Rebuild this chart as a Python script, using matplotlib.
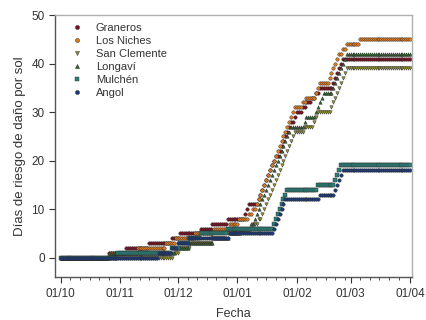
import numpy as np
import pandas as pd
import matplotlib
matplotlib.use("Agg")
import matplotlib.pyplot as plt
import matplotlib.dates as mdates

plt.rcParams['font.family'] = ['Liberation Sans', 'DejaVu Sans']

# season start and end (daily records)
START = '2018-10-01'
END = '2019-04-01'

# days (counted from 01/10) on which each station registered a sun damage risk day
graneros = [25, 34, 46, 58, 62, 73, 79, 87, 96, 97, 98,
            103, 104, 105, 106, 107, 108, 109, 110, 111, 112,
            114, 115, 116, 117, 118, 119, 120, 122, 123, 126, 128, 131, 133, 135,
            142, 143, 144, 145, 146, 147]
los_niches = [26, 40, 55, 60, 70, 80, 88, 93, 98, 100,
              102, 103, 104, 105, 106, 107, 108, 109, 110, 111, 112, 113, 114,
              115, 116, 117, 118, 119, 120, 121, 122, 126, 128, 133, 134, 135,
              140, 141, 142, 143, 144, 145, 147, 149, 156]
san_clemente = [59, 62, 68, 79, 86, 95, 100, 103,
                105, 106, 107, 108, 109, 110, 111, 112, 113, 114, 115, 116, 117,
                118, 119, 120, 121, 122, 127, 132, 133, 134,
                141, 142, 143, 144, 145, 146, 147, 148, 149]
longavi = [25, 60, 67, 80, 88, 94, 99,
           101, 102, 103, 104, 105, 106, 107, 108, 109, 110, 111, 112, 113, 114,
           115, 116, 117, 118, 119, 120, 127, 128, 133, 134, 135, 136, 137,
           142, 143, 144, 145, 146, 147, 148, 149]
mulchen = [30, 58, 62, 67, 73, 87, 111, 112, 113, 114, 115, 116, 117, 118,
           134, 143, 144, 145, 146]
angol = [51, 58, 61, 67, 88, 111, 112, 113, 114, 115, 116, 117,
         135, 143, 144, 145, 146, 147]

stations = ['Graneros', 'Los Niches', 'San Clemente', 'Longaví', 'Mulchén', 'Angol']
events = [graneros, los_niches, san_clemente, longavi, mulchen, angol]
colors = ['#7a1222', '#d97a22', '#8c8c30', '#2f5e2f', '#2b8078', '#1d3a78']
markers = ['o', 'o', 'v', '^', 's', 'o']

dates = pd.date_range(START, END, freq='D')
day_idx = np.arange(len(dates))

fig = plt.figure(figsize=(4.27, 3.20), dpi=100)
ax = fig.add_axes([0.129, 0.134, 0.836, 0.819])

for name, ev, c, m in zip(stations, events, colors, markers):
    # cumulative number of risk days up to each date
    cum = np.searchsorted(np.sort(ev), day_idx, side='right')
    ax.plot(dates, cum, linestyle='none', marker=m, markersize=2.5,
            markerfacecolor=c, markeredgecolor='#2a2a2a', markeredgewidth=0.3,
            label=name)

ax.set_xlim(pd.Timestamp('2018-09-28'), pd.Timestamp('2019-04-02'))
ax.set_ylim(-4, 50)
ax.set_yticks(range(0, 51, 10))

ax.xaxis.set_major_locator(mdates.MonthLocator())
ax.xaxis.set_major_formatter(mdates.DateFormatter('%d/%m'))
ax.xaxis.set_minor_locator(mdates.DayLocator(bymonthday=[6, 11, 16, 21, 26]))

ax.tick_params(axis='both', which='major', direction='out', length=4, width=0.8,
               labelsize=8.5, colors='#333333')
ax.tick_params(axis='x', which='minor', direction='out', length=2.5, width=0.6,
               colors='#333333')

for side in ['top', 'right']:
    ax.spines[side].set_color('#b0b0b0')
    ax.spines[side].set_linewidth(1.0)
for side in ['left', 'bottom']:
    ax.spines[side].set_color('#555555')
    ax.spines[side].set_linewidth(1.0)

ax.set_xlabel('Fecha', fontsize=9, color='#333333', labelpad=6)
ax.set_ylabel('Días de riesgo de daño por sol', fontsize=9.5, color='#333333',
              labelpad=4)

leg = ax.legend(loc='upper left', frameon=False, fontsize=8, handletextpad=1.0,
                labelspacing=0.28, borderaxespad=0.3, markerscale=1.2,
                handlelength=1.5, bbox_to_anchor=(0.015, 1.0))
for t in leg.get_texts():
    t.set_color('#333333')

fig.savefig('out.png', dpi=100)
